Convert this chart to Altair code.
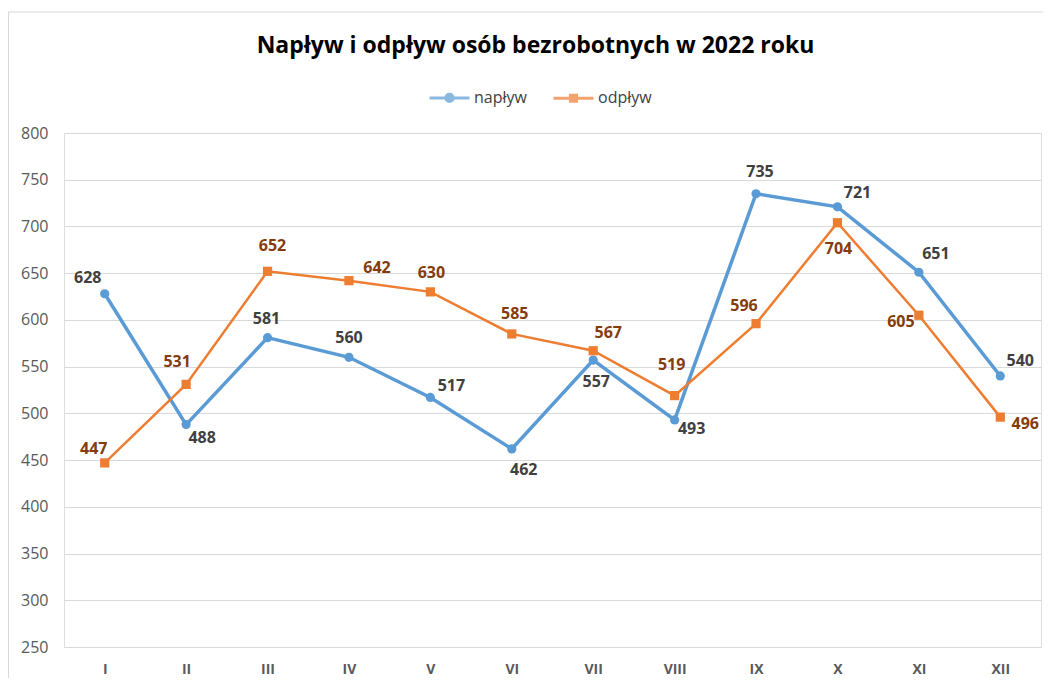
import altair as alt
import pandas as pd

# ---- data ----
months = ["I", "II", "III", "IV", "V", "VI", "VII", "VIII", "IX", "X", "XI", "XII"]
naplyw = [628, 488, 581, 560, 517, 462, 557, 493, 735, 721, 651, 540]
odplyw = [447, 531, 652, 642, 630, 585, 567, 519, 596, 704, 605, 496]
series_names = ["napływ", "odpływ"]
y_ticks = list(range(250, 801, 50))

# ---- label placement (pixel offsets from the point) ----
naplyw_label_off = [(-17, -16), (16, 13), (-1, -19), (0, -19), (21, -11), (12, 21),
                    (3, 22), (17, 9), (4, -22), (20, -14), (17, -18), (20, -15)]
odplyw_label_off = [(-11, -14), (-9, -22), (5, -25), (28, -13), (1, -19), (3, -20),
                    (15, -18), (-3, -31), (-12, -18), (1, 26), (-18, 7), (25, 7)]

BLUE = "#5B9BD5"
ORANGE = "#ED7D31"
FONT = "Open Sans"

rows = []
for i, m in enumerate(months):
    rows.append({"month": m, "value": naplyw[i], "series": series_names[0], "idx": i})
for i, m in enumerate(months):
    rows.append({"month": m, "value": odplyw[i], "series": series_names[1], "idx": 12 + i})
df = pd.DataFrame(rows)

x_enc = alt.X("month:N", sort=months, scale=alt.Scale(domain=months), title=None,
              axis=alt.Axis(domain=False, ticks=False, grid=False, labelAngle=0,
                            labelFont=FONT, labelFontSize=14, labelFontWeight="bold",
                            labelColor="#595959", labelPadding=15))
y_enc = alt.Y("value:Q", scale=alt.Scale(domain=[250, 800], nice=False, zero=False), title=None,
              axis=alt.Axis(values=y_ticks, domain=False, ticks=False, grid=True,
                            gridColor="#D9D9D9", gridWidth=1,
                            labelFont=FONT, labelFontSize=16, labelColor="#595959",
                            labelPadding=16))

base = alt.Chart(df)

one = pd.DataFrame({"a": [0]})
border_left = alt.Chart(one).mark_rule(color="#D9D9D9", strokeWidth=1).encode(
    x=alt.value(-55.5), y=alt.value(-121), y2=alt.value(700))
border_top = alt.Chart(one).mark_rule(color="#D9D9D9", strokeWidth=1).encode(
    x=alt.value(-56), x2=alt.value(1100), y=alt.value(-121))

line_n = base.transform_filter(alt.datum.series == series_names[0]).mark_line(
    color=BLUE, strokeWidth=3.5).encode(x=x_enc, y=y_enc)
line_o = base.transform_filter(alt.datum.series == series_names[1]).mark_line(
    color=ORANGE, strokeWidth=2.5).encode(x=x_enc, y=y_enc)
pts_n = base.transform_filter(alt.datum.series == series_names[0]).mark_circle(
    color=BLUE, size=85, opacity=1).encode(x=x_enc, y=y_enc)
pts_o = base.transform_filter(alt.datum.series == series_names[1]).mark_square(
    color=ORANGE, size=85, opacity=1).encode(x=x_enc, y=y_enc)

circ_path = "M-1,0H1M0.18,0A0.18,0.18,0,1,1,-0.18,0A0.18,0.18,0,1,1,0.18,0Z"
sq_path = "M-1,0H1M-0.15,-0.15H0.15V0.15H-0.15Z"

leg = alt.Legend(orient="none", legendX=364, legendY=-57, direction="horizontal", title=None,
                 symbolSize=1600, symbolStrokeWidth=3, labelFont=FONT, labelFontSize=16,
                 labelColor="#404040", labelOffset=3, columnPadding=20, padding=0,
                 labelLimit=300)
legend_layer = base.transform_filter("false").mark_point(filled=True, strokeWidth=3).encode(
    x=x_enc, y=y_enc,
    color=alt.Color("series:N", scale=alt.Scale(domain=series_names, range=[BLUE, ORANGE]), legend=leg),
    stroke=alt.Stroke("series:N", scale=alt.Scale(domain=series_names, range=[BLUE, ORANGE]), legend=leg),
    shape=alt.Shape("series:N", scale=alt.Scale(domain=series_names, range=[circ_path, sq_path]), legend=leg),
)

label_layers = []
for i in range(12):
    dx, dy = naplyw_label_off[i]
    label_layers.append(
        base.transform_filter(alt.datum.idx == i).mark_text(
            dx=dx, dy=dy, font=FONT, fontSize=16, fontWeight="bold", color="#404040",
            baseline="middle", align="center").encode(x=x_enc, y=y_enc, text="value:Q"))
for i in range(12):
    dx, dy = odplyw_label_off[i]
    label_layers.append(
        base.transform_filter(alt.datum.idx == 12 + i).mark_text(
            dx=dx, dy=dy, font=FONT, fontSize=16, fontWeight="bold", color="#843C0C",
            baseline="middle", align="center").encode(x=x_enc, y=y_enc, text="value:Q"))

chart = alt.layer(border_left, border_top, line_n, line_o, pts_n, pts_o, legend_layer,
                  *label_layers).properties(
    width=977, height=514,
    autosize=alt.AutoSizeParams(type="none"),
    padding={"left": 56, "top": 125, "right": 2, "bottom": 31},
    title=alt.TitleParams("Napływ i odpływ osób bezrobotnych w 2022 roku", font=FONT,
                          fontSize=23, fontWeight="bold", color="#000000", anchor="middle",
                          dx=-17, offset=10, dy=56),
).configure_view(strokeWidth=0, stroke="transparent").configure(background="white")

chart.save("out.html", embed_options={"renderer": "svg", "actions": False})
